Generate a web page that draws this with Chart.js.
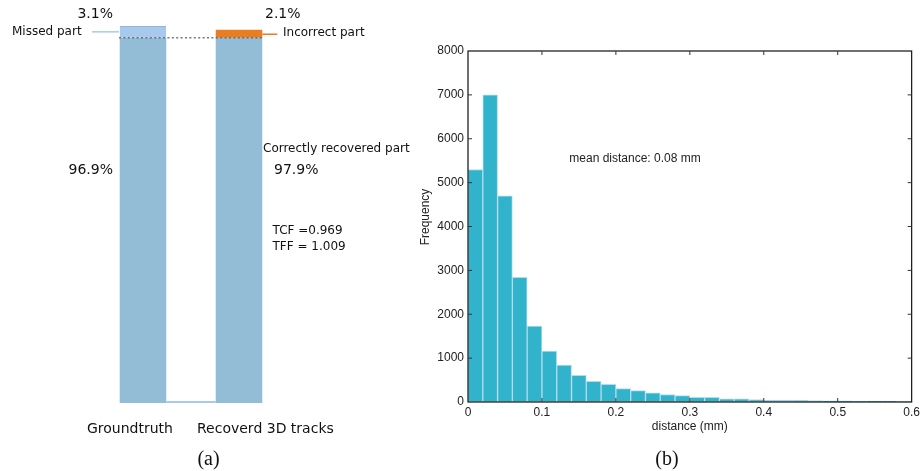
<!DOCTYPE html>
<html>
<head>
<meta charset="utf-8">
<script src="https://cdn.jsdelivr.net/npm/chart.js@4.4.1/dist/chart.umd.min.js"></script>
<style>
  html, body { margin: 0; padding: 0; background: #fff; }
  #wrap { position: relative; width: 923px; height: 471px; overflow: hidden; }
  #left { position: absolute; left: 0; top: 0; }
  #right { position: absolute; left: 410px; top: 0; }
</style>
</head>
<body>
<div id="wrap">
  <canvas id="left" width="410" height="471"></canvas>
  <canvas id="right" width="513" height="471"></canvas>
</div>
<script>
// ---------- (a) track recovery, % of groundtruth ----------
const trackCats = ["Groundtruth", "", "Recoverd 3D tracks"];
const correctPart = [96.9, 0, 96.9];
const missedPart = [3.1, 0, 0];
const incorrectPart = [0, 0, 2.1];
const tffText = "1.009";

// ---------- (b) distance histogram ----------
const binCenters = [0.01, 0.03, 0.05, 0.07, 0.09, 0.11, 0.13, 0.15, 0.17, 0.19,
                    0.21, 0.23, 0.25, 0.27, 0.29, 0.31, 0.33, 0.35, 0.37, 0.39,
                    0.41, 0.43, 0.45, 0.47, 0.49, 0.51, 0.53, 0.55, 0.57, 0.59];
const binCounts = [5300, 7000, 4700, 2840, 1730, 1160, 840, 610, 470, 400,
                   305, 260, 210, 170, 145, 108, 105, 75, 70, 55,
                   46, 45, 38, 35, 28, 25, 22, 20, 15, 12];
const meanText = "mean distance: 0.08 mm";

// ---------- Colours & fonts ----------
const C_CORRECT = "#93bcd6";
const C_MISSED = "#a7c9ee";
const C_INCORRECT = "#e97d22";
const C_HIST = "#31b3cb";
const C_HIST_EDGE = "#b3dcee";
const F_DEJAVU = "'DejaVu Sans', sans-serif";
const F_SANS = "'Liberation Sans', Arial, sans-serif";
const F_SERIF = "'Liberation Serif', 'Times New Roman', serif";

const pct = (v) => v.toFixed(1) + "%";

function txt(ctx, s, x, y, font, align, color) {
  ctx.save();
  ctx.font = font;
  ctx.textAlign = align || "left";
  ctx.textBaseline = "middle";
  ctx.fillStyle = color || "#111";
  ctx.fillText(s, x, y);
  ctx.restore();
}

// ---------- (a) overlays: leaders, dotted level, labels ----------
const trackDeco = {
  id: "trackDeco",
  afterDatasetsDraw(chart) {
    const { ctx, chartArea: a } = chart;
    const y = chart.scales.y;
    const bars = chart.getDatasetMeta(0).data;
    const b0 = bars[0], b2 = bars[2];
    const gtRight = b0.x + b0.width / 2;
    const recLeft = b2.x - b2.width / 2;
    const recRight = b2.x + b2.width / 2;

    ctx.save();
    // baseline between the two bars
    ctx.strokeStyle = C_MISSED;
    ctx.lineWidth = 2;
    ctx.beginPath();
    ctx.moveTo(gtRight, y.getPixelForValue(0) - 1);
    ctx.lineTo(recLeft, y.getPixelForValue(0) - 1);
    ctx.stroke();

    // dotted level of the correctly recovered part
    const yc = y.getPixelForValue(correctPart[0]);
    ctx.strokeStyle = "rgba(95,95,95,0.85)";
    ctx.lineWidth = 1.6;
    ctx.setLineDash([2, 2.4]);
    ctx.beginPath();
    ctx.moveTo(a.left, yc);
    ctx.lineTo(recRight + 2, yc);
    ctx.stroke();
    ctx.setLineDash([]);

    // leader lines
    const ym = y.getPixelForValue(correctPart[0] + missedPart[0] / 2);
    ctx.strokeStyle = C_MISSED;
    ctx.lineWidth = 1.5;
    ctx.beginPath();
    ctx.moveTo(92, ym);
    ctx.lineTo(a.left, ym);
    ctx.stroke();
    const yi = y.getPixelForValue(correctPart[2] + incorrectPart[2] / 2) + 0.5;
    ctx.strokeStyle = C_INCORRECT;
    ctx.beginPath();
    ctx.moveTo(recRight, yi);
    ctx.lineTo(recRight + 15, yi);
    ctx.stroke();
    ctx.restore();

    const recTotal = correctPart[2] + incorrectPart[2];
    const f14 = "14px " + F_DEJAVU, f12 = "12px " + F_DEJAVU;
    txt(ctx, pct(missedPart[0]), 113, 14, f14, "right");
    txt(ctx, "Missed part", 12, 32, f12);
    txt(ctx, pct(incorrectPart[2] / recTotal * 100), 265, 14, f14);
    txt(ctx, "Incorrect part", 283, 33, f12);
    txt(ctx, pct(correctPart[0]), 113, 170.5, f14, "right");
    txt(ctx, "Correctly recovered part", 263, 149, f12);
    txt(ctx, pct(correctPart[2] / recTotal * 100), 274, 170, f14);
    txt(ctx, "TCF =" + (correctPart[2] / 100).toFixed(3), 272.5, 231, f12);
    txt(ctx, "TFF = " + tffText, 272.5, 247, f12);
    txt(ctx, trackCats[0], 87, 429, f14);
    txt(ctx, trackCats[2], 197, 429, f14);
    txt(ctx, "(a)", 208.5, 460, "20px " + F_SERIF, "center");
  }
};

new Chart(document.getElementById("left"), {
  type: "bar",
  data: {
    labels: trackCats,
    datasets: [
      { label: "correct", data: correctPart, backgroundColor: C_CORRECT, borderWidth: 0 },
      { label: "missed", data: missedPart, backgroundColor: C_MISSED,
        borderColor: "#8fb6dd", borderWidth: { top: 1, left: 0, right: 0, bottom: 0 }, borderSkipped: "bottom" },
      { label: "incorrect", data: incorrectPart, backgroundColor: C_INCORRECT, borderWidth: 0 }
    ]
  },
  options: {
    responsive: false,
    animation: false,
    layout: { padding: { left: 119, right: 147, top: 26, bottom: 68 } },
    datasets: { bar: { barPercentage: 0.97, categoryPercentage: 1 } },
    plugins: { legend: { display: false }, tooltip: { enabled: false } },
    scales: {
      x: { stacked: true, display: false },
      y: { stacked: true, display: false, min: 0, max: 100 }
    }
  },
  plugins: [trackDeco]
});

// ---------- (b) box frame, inward ticks, titles ----------
const histDeco = {
  id: "histDeco",
  afterDatasetsDraw(chart) {
    const { ctx, chartArea: a } = chart;
    const xs = chart.scales.x, ys = chart.scales.y;
    ctx.save();
    ctx.strokeStyle = "#111";
    ctx.lineWidth = 1.2;
    ctx.strokeRect(a.left, a.top, a.right - a.left, a.bottom - a.top);

    const L = 4;
    ctx.lineWidth = 1;
    ctx.strokeStyle = "#333";
    ctx.beginPath();
    xs.ticks.forEach((t) => {
      const px = xs.getPixelForValue(t.value);
      if (px <= a.left + 1 || px >= a.right - 1) return;
      ctx.moveTo(px, a.bottom); ctx.lineTo(px, a.bottom - L);
      ctx.moveTo(px, a.top); ctx.lineTo(px, a.top + L);
    });
    ys.ticks.forEach((t) => {
      const py = ys.getPixelForValue(t.value);
      if (py <= a.top + 1 || py >= a.bottom - 1) return;
      ctx.moveTo(a.left, py); ctx.lineTo(a.left + L, py);
      ctx.moveTo(a.right, py); ctx.lineTo(a.right - L, py);
    });
    ctx.stroke();
    ctx.restore();

    const f12 = "12px " + F_SANS;
    txt(ctx, meanText, xs.getPixelForValue(0.137), ys.getPixelForValue(5550), f12, "left", "#222");
    txt(ctx, "distance (mm)", (a.left + a.right) / 2, 426.5, f12, "center", "#222");
    ctx.save();
    ctx.translate(15.5, 217);
    ctx.rotate(-Math.PI / 2);
    txt(ctx, "Frequency", 0, 0, f12, "center", "#222");
    ctx.restore();
    txt(ctx, "(b)", 257, 460, "20px " + F_SERIF, "center");
  }
};

new Chart(document.getElementById("right"), {
  type: "bar",
  data: {
    datasets: [{
      label: "Frequency",
      data: binCenters.map((x, i) => ({ x, y: binCounts[i] })),
      backgroundColor: C_HIST,
      borderColor: C_HIST_EDGE,
      borderWidth: 1,
      borderSkipped: false,
      barPercentage: 1,
      categoryPercentage: 1
    }]
  },
  options: {
    responsive: false,
    animation: false,
    layout: { padding: { left: 0, right: 10, top: 51, bottom: 0 } },
    plugins: { legend: { display: false }, tooltip: { enabled: false } },
    scales: {
      x: {
        type: "linear", min: 0, max: 0.6, offset: false,
        grid: { display: false, drawTicks: false },
        border: { display: false },
        ticks: { stepSize: 0.1, padding: 3, color: "#222", font: { family: F_SANS, size: 12 },
                 callback: (v) => String(Math.round(v * 10) / 10) },
        afterFit: (s) => { s.height = 69; }
      },
      y: {
        min: 0, max: 8000,
        grid: { display: false, drawTicks: false },
        border: { display: false },
        ticks: { stepSize: 1000, padding: 4, color: "#222", font: { family: F_SANS, size: 12 },
                 callback: (v) => String(v) },
        afterFit: (s) => { s.width = 58; }
      }
    }
  },
  plugins: [histDeco]
});
</script>
</body>
</html>
